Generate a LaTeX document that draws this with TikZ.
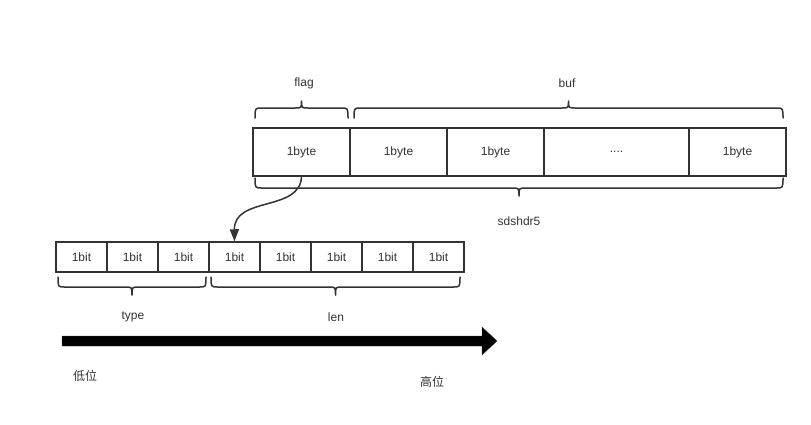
\documentclass[tikz,border=0pt]{standalone}
\usepackage{fontspec}
\setmainfont{Liberation Sans}
\newfontfamily\cjk{Noto Sans CJK SC}
\usetikzlibrary{arrows.meta}
\definecolor{ink}{HTML}{333333}
\tikzset{
  cell/.style={draw=ink, line width=1.5pt, rectangle, inner sep=0pt, minimum height=48pt, text=ink, font=\fontsize{12}{14}\selectfont},
  bitcell/.style={draw=ink, line width=1.5pt, rectangle, inner sep=0pt, minimum width=51pt, minimum height=30pt, text=ink, font=\fontsize{12}{14}\selectfont},
  lbl/.style={text=ink, inner sep=0pt, font=\fontsize{12}{14}\selectfont},
  brace/.style={draw=ink, line width=1.5pt, line cap=round, line join=round},
}
% horizontal brace: x1, x2, y of ends, y of line, y of tip
\newcommand\hbr[5]{%
  \pgfmathsetmacro\xm{(#1+#2)/2}%
  \draw[brace] (#1,#3) .. controls (#1,#4) .. (#1+7,#4) -- (\xm-7,#4)
    .. controls (\xm,#4) .. (\xm,#5) .. controls (\xm,#4) .. (\xm+7,#4)
    -- (#2-7,#4) .. controls (#2,#4) .. (#2,#3);}
\begin{document}
\begin{tikzpicture}[x=1pt,y=-1pt]
\useasboundingbox (0,0) rectangle (811,424);
% top row
\node[cell, minimum width=97pt] (b1) at (301.5,152) {1byte};
\node[cell, minimum width=97pt] (b2) at (398.5,152) {1byte};
\node[cell, minimum width=97pt] (b3) at (495.5,152) {1byte};
\node[cell, minimum width=145pt] (b4) at (616.5,152) {....};
\node[cell, minimum width=97pt] (b5) at (737.5,152) {1byte};
% bits row
\foreach \i/\x in {1/81.5,2/132.5,3/183.5,4/234.5,5/285.5,6/336.5,7/387.5,8/438.5}
  \node[bitcell] (bit\i) at (\x,257) {1bit};
% braces
\hbr{255}{348}{118}{108}{101}
\hbr{354}{783}{118}{108}{101}
\hbr{255}{783}{178}{188}{196}
\hbr{58}{206}{277}{287}{295}
\hbr{211}{460}{277}{287}{295}
% labels
\node[lbl] (flag) at (304,83) {flag};
\node[lbl] (buf) at (567,83) {buf};
\node[lbl] (sds) at (519,221) {sdshdr5};
\node[lbl] (type) at (133,317) {type};
\node[lbl] (len) at (336,317) {len};
\node[lbl, font=\cjk\fontsize{12}{14}\selectfont] (low) at (85,376) {低位};
\node[lbl, font=\cjk\fontsize{12}{14}\selectfont] (high) at (432,382) {高位};
% connector
\draw[ink, line width=1.5pt, -{Triangle[length=12pt,width=9pt]}]
  (b1.south) .. controls (300,212) and (234,196) .. (bit4.north);
% big arrow
\coordinate (as) at (62,341);
\coordinate (ae) at (497,341);
\fill[black, draw=black!75] (62,336) -- (482,336) -- (482,327) -- (ae) -- (482,355) -- (482,346) -- (62,346) -- cycle;
\end{tikzpicture}
\end{document}
